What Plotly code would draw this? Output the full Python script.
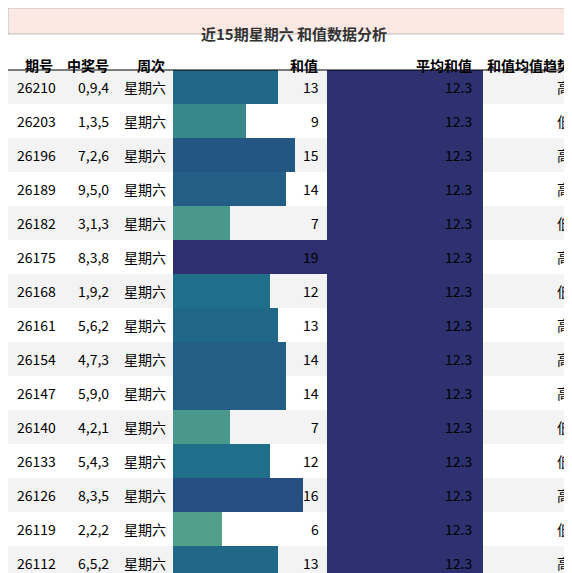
import plotly.graph_objects as go

issues = ["26210","26203","26196","26189","26182","26175","26168","26161","26154","26147","26140","26133","26126","26119","26112"]
numbers = ["0,9,4","1,3,5","7,2,6","9,5,0","3,1,3","8,3,8","1,9,2","5,6,2","4,7,3","5,9,0","4,2,1","5,4,3","8,3,5","2,2,2","6,5,2"]
weekday = ["星期六"]*15
sums = [13,9,15,14,7,19,12,13,14,14,7,12,16,6,13]
avg = [12.3]*15
trend = ["高","低","高","高","低","高","低","高","高","高","低","低","高","低","高"]
headers = ["期号","中奖号","周次","和值","平均和值","和值均值趋势"]
title = "近15期星期六 和值数据分析"

W, H = 572, 573
def px(x): return x / W
def py(y): return 1 - y / H

rows = list(range(len(issues)))
fig = go.Figure()
fig.add_trace(go.Bar(x=sums, y=rows, orientation="h", xaxis="x", yaxis="y", width=1,
                     marker=dict(color=sums, cmin=5, cmax=19, line=dict(width=0),
                                 colorscale=[[0, "#5aa88c"], [0.5, "#1f6f8a"], [0.8, "#264c80"], [1, "#2d2f6e"]])))
fig.add_trace(go.Bar(x=avg, y=rows, orientation="h", xaxis="x2", yaxis="y", width=1,
                     marker=dict(color="#2d3170", line=dict(width=0))))

shapes = []
for i in rows:
    if i % 2 == 0:
        shapes.append(dict(type="rect", xref="paper", yref="y", x0=0, x1=1, y0=i-0.5, y1=i+0.5,
                           fillcolor="#f3f3f3", line=dict(width=0), layer="below"))
shapes.append(dict(type="rect", xref="paper", yref="paper", x0=0, x1=1, y0=py(26), y1=1,
                   fillcolor="#fce8e3", line=dict(color="#bbbbbb", width=1)))
shapes.append(dict(type="line", xref="paper", yref="paper", x0=0, x1=1, y0=py(62), y1=py(62),
                   line=dict(color="black", width=1)))

ann = []
font = dict(family="Noto Sans CJK SC", size=14, color="black")
ann.append(dict(text="<b>"+title+"</b>", x=0.5, y=py(13), xref="paper", yref="paper",
                showarrow=False, font=dict(family="Noto Sans CJK SC", size=15, color="#333")))
hx = [(47, "right"), (103, "right"), (159, "right"), (312, "right"), (466, "right"), (565, "right")]
for h, (x, a) in zip(headers, hx):
    ann.append(dict(text="<b>"+h+"</b>", x=px(x), y=py(45), xref="paper", yref="paper",
                    xanchor=a, showarrow=False, font=font))
for i in rows:
    cells = [(issues[i], 7, "left"), (numbers[i], 103, "right"), (weekday[i], 137, "center"),
             (str(sums[i]), 313, "right"), (f"{avg[i]:.1f}", 466, "right"), (trend[i], 565, "right")]
    for t, x, a in cells:
        ann.append(dict(text=t, x=px(x), y=i, xref="paper", yref="y", xanchor=a,
                        showarrow=False, font=font))

fig.update_layout(
    width=W, height=H, margin=dict(l=0, r=0, t=0, b=0),
    paper_bgcolor="white", plot_bgcolor="rgba(0,0,0,0)", showlegend=False, bargap=0,
    xaxis=dict(domain=[px(165), px(319)], range=[0, 19], visible=False, fixedrange=True),
    xaxis2=dict(domain=[px(319), px(475)], range=[0, 12.3], visible=False, anchor="y"),
    yaxis=dict(domain=[py(572), py(62)], range=[14.5, -0.5], visible=False),
    shapes=shapes, annotations=ann,
)
fig.write_html("out.html")
